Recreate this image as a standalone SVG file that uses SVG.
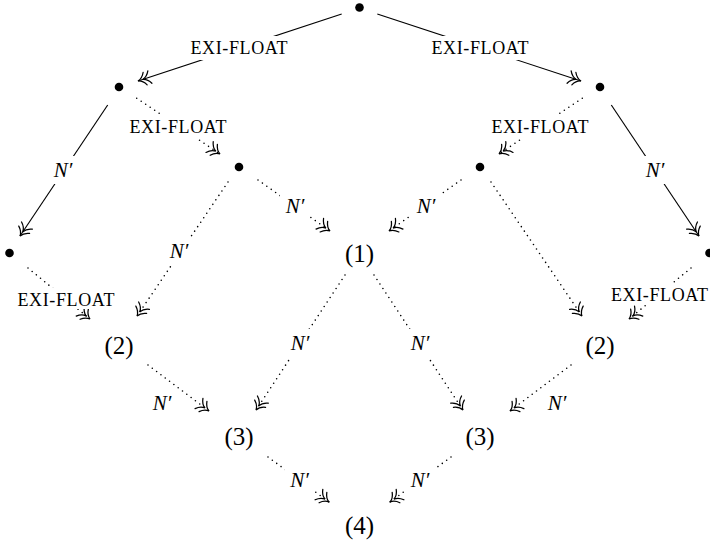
<svg xmlns="http://www.w3.org/2000/svg" width="710" height="543" viewBox="0 0 710 543">
<style>
.solid{stroke:#000;stroke-width:1.15;fill:none;marker-end:url(#ah)}
.dotl{stroke:#000;stroke-width:1.6;stroke-dasharray:0 5.4;stroke-linecap:round;fill:none;marker-end:url(#ah)}
.ahp{fill:none;stroke:#000;stroke-width:1.25;stroke-linecap:round;stroke-dasharray:none}
.bg{fill:#fff}
.lbl{font-family:"Liberation Serif",serif;font-size:18px;text-anchor:middle;fill:#000}
.nl{font-family:"Liberation Serif",serif;font-style:italic;font-size:21px;text-anchor:middle;fill:#000}
.num{font-family:"Liberation Serif",serif;font-size:25px;text-anchor:middle;fill:#000}
.pt{fill:#000}
</style>
<defs>
<marker id="ah" viewBox="-16 -9 18 18" refX="0" refY="0" markerWidth="18" markerHeight="18" markerUnits="userSpaceOnUse" orient="auto" overflow="visible">
<path class="ahp" d="M-7.5,-6.5 C-5.6,-2.8 -2.8,-0.7 0,0 C-2.8,0.7 -5.6,2.8 -7.5,6.5 M-12.5,-6.5 C-10.6,-2.8 -7.8,-0.7 -5,0 C-7.8,0.7 -10.6,2.8 -12.5,6.5"/>
</marker>
</defs>
<rect width="710" height="543" fill="#fff"/>
<g id="connectors">
<line class="solid" x1="341.7" y1="14" x2="138" y2="81"/>
<line class="solid" x1="377.3" y1="14" x2="581" y2="81"/>
<line class="solid" x1="107.7" y1="105" x2="20" y2="236"/>
<line class="solid" x1="611.3" y1="105" x2="699" y2="236"/>
<line class="dotl" x1="136.7" y1="98.3" x2="220" y2="154"/>
<line class="dotl" x1="582.3" y1="98.3" x2="499" y2="154"/>
<line class="dotl" x1="258" y1="180" x2="330" y2="231"/>
<line class="dotl" x1="461" y1="180" x2="389" y2="231"/>
<line class="dotl" x1="228" y1="182" x2="137" y2="316"/>
<line class="dotl" x1="491" y1="182" x2="582" y2="316"/>
<line class="dotl" x1="28" y1="268" x2="90" y2="319"/>
<line class="dotl" x1="691" y1="268" x2="629" y2="319"/>
<line class="dotl" x1="345" y1="275" x2="256" y2="410"/>
<line class="dotl" x1="374" y1="275" x2="463" y2="410"/>
<line class="dotl" x1="148" y1="365" x2="209" y2="411"/>
<line class="dotl" x1="571" y1="365" x2="510" y2="411"/>
<line class="dotl" x1="268" y1="457" x2="329" y2="502"/>
<line class="dotl" x1="451" y1="457" x2="390" y2="502"/>
<g id="edge-labels">
<rect class="bg" x="187.5" y="36" width="103" height="24"/><text class="lbl" x="239" y="54" textLength="97" lengthAdjust="spacing">EXI-FLOAT</text>
<rect class="bg" x="428.5" y="36" width="103" height="24"/><text class="lbl" x="480" y="54" textLength="97" lengthAdjust="spacing">EXI-FLOAT</text>
<rect class="bg" x="126.5" y="115" width="103" height="24"/><text class="lbl" x="178" y="133" textLength="97" lengthAdjust="spacing">EXI-FLOAT</text>
<rect class="bg" x="488.5" y="115" width="103" height="24"/><text class="lbl" x="540" y="133" textLength="97" lengthAdjust="spacing">EXI-FLOAT</text>
<rect class="bg" x="14.5" y="288" width="103" height="21"/><text class="lbl" x="66" y="306" textLength="97" lengthAdjust="spacing">EXI-FLOAT</text>
<rect class="bg" x="608" y="283" width="103" height="21"/><text class="lbl" x="659.5" y="301" textLength="97" lengthAdjust="spacing">EXI-FLOAT</text>
<rect class="bg" x="48" y="156" width="30" height="28"/><text class="nl" x="63" y="177">N′</text>
<rect class="bg" x="640" y="156" width="30" height="28"/><text class="nl" x="655" y="177">N′</text>
<rect class="bg" x="280" y="192" width="30" height="28"/><text class="nl" x="295" y="213">N′</text>
<rect class="bg" x="411" y="192" width="30" height="28"/><text class="nl" x="426" y="213">N′</text>
<rect class="bg" x="164" y="237" width="30" height="28"/><text class="nl" x="179" y="258">N′</text>
<rect class="bg" x="285" y="329" width="30" height="28"/><text class="nl" x="300" y="350">N′</text>
<rect class="bg" x="405" y="329" width="30" height="28"/><text class="nl" x="420" y="350">N′</text>
<text class="nl" x="162" y="410">N′</text>
<text class="nl" x="557" y="410">N′</text>
<rect class="bg" x="284.5" y="466" width="30" height="28"/><text class="nl" x="299.5" y="487">N′</text>
<rect class="bg" x="405" y="466" width="30" height="28"/><text class="nl" x="420" y="487">N′</text>
</g>
</g>
<g id="n-top"><circle class="pt" cx="359.5" cy="7.5" r="4.3"/></g>
<g id="n-a"><circle class="pt" cx="119" cy="87" r="4.3"/></g>
<g id="n-b"><circle class="pt" cx="600" cy="87" r="4.3"/></g>
<g id="n-c"><circle class="pt" cx="239" cy="167" r="4.3"/></g>
<g id="n-d"><circle class="pt" cx="480" cy="167" r="4.3"/></g>
<g id="n-e"><circle class="pt" cx="9.5" cy="253" r="4.3"/></g>
<g id="n-f"><circle class="pt" cx="709.5" cy="253" r="4.3"/></g>
<g id="n-1"><text class="num" x="359.5" y="262">(1)</text></g>
<g id="n-2l"><text class="num" x="119" y="354">(2)</text></g>
<g id="n-2r"><text class="num" x="600" y="354">(2)</text></g>
<g id="n-3l"><text class="num" x="239" y="445">(3)</text></g>
<g id="n-3r"><text class="num" x="480" y="445">(3)</text></g>
<g id="n-4"><text class="num" x="359.5" y="534">(4)</text></g>
</svg>
